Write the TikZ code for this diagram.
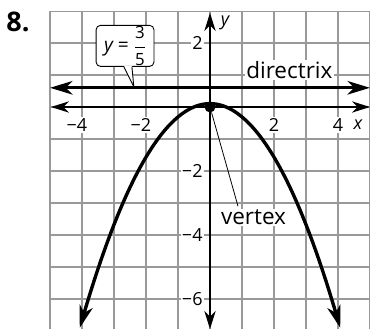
\documentclass[tikz,border=0pt]{standalone}
\usepackage{fontspec}
\setmainfont{Open Sans}
\usetikzlibrary{arrows.meta,calc}
\begin{document}
\begin{tikzpicture}[x=1cm,y=1cm,
  gridline/.style={draw=black!40, line width=0.9pt},
  axis/.style={line width=1.6pt, {Stealth[length=16pt,width=10pt,inset=5pt]}-{Stealth[length=16pt,width=10pt,inset=5pt]}},
  heavy/.style={line width=3pt, {Stealth[length=20pt,width=12pt,inset=6pt]}-{Stealth[length=20pt,width=12pt,inset=6pt]}},
  ticklbl/.style={font=\fontsize{16}{18}\selectfont, fill=white, inner sep=1pt},
  lbl/.style={font=\fontsize{20}{22}\selectfont, fill=white, inner sep=1pt},
]
\useasboundingbox (-6.5625,-6.9375) rectangle (5,3.34375);
% grid
\draw[gridline] (-5,-6.94) grid (5,3);
% problem number
\node[font=\fontsize{24}{26}\selectfont\bfseries] (num) at (-6.0,2.66) {8.};
% tick labels
\node[ticklbl] (xm4) at (-4,-0.56) {\llap{−}4};
\node[ticklbl] (xm2) at (-2,-0.56) {\llap{−}2};
\node[ticklbl] (xp2) at (2,-0.56) {2};
\node[ticklbl] (xp4) at (4,-0.56) {4};
\node[ticklbl] (xl) at (4.62,-0.56) {\itshape x};
\node[ticklbl, anchor=east] (yp2) at (-0.19,2) {2};
\node[ticklbl, anchor=east] (ym2) at (-0.19,-2) {−2};
\node[ticklbl, anchor=east] (ym4) at (-0.19,-4) {−4};
\node[ticklbl, anchor=east] (ym6) at (-0.19,-6) {−6};
\node[ticklbl] (yl) at (0.47,2.62) {\itshape y};
% labels
\node[lbl] (dl) at (2.48,1.15) {directrix};
\node[lbl] (vl) at (1.36,-3.45) {vertex};
% axes
\coordinate (xa) at (-4.97,0);
\coordinate (xb) at (5,0);
\coordinate (ya) at (0,-6.94);
\coordinate (yb) at (0,2.94);
\draw[axis] (xa) -- (xb);
\draw[axis] (ya) -- (yb);
% directrix
\coordinate (da) at (-5,0.6);
\coordinate (db) at (5,0.6);
\draw[heavy] (da) -- (db);
% parabola y = -5x^2/12
\coordinate (pa) at (-4.07,-6.902);
\coordinate (pb) at (4.07,-6.902);
\draw[heavy] (pa) .. controls (-1.3567,2.3007) and (1.3567,2.3007) .. (pb);
% vertex
\node[circle, fill=black, inner sep=0pt, minimum size=0.34cm] (v) at (0,0) {};
\coordinate (ve) at (0.875,-3.1);
\draw[line width=0.7pt] (v) -- (ve);
% callout
\node[draw, line width=0.8pt, rounded corners=4pt, fill=white, minimum width=1.81cm, minimum height=1.06cm, inner sep=1pt, font=\fontsize{17}{19}\selectfont] (co) at (-2.655,1.91) {\itshape y\upshape\ = $\displaystyle\frac{\mbox{\fontsize{15}{16}\selectfont 3}}{\mbox{\fontsize{15}{16}\selectfont 5}}$};
\coordinate (pl) at ($(co.south)+(-0.035,0)$);
\coordinate (pr) at ($(co.south)+(0.215,0)$);
\coordinate (tip) at ($(co.south)+(0.275,-0.625)$);
\fill[white] ($(pl)+(0,0.04)$) -- (tip) -- ($(pr)+(0,0.04)$) -- cycle;
\draw[line width=0.8pt, line join=round] (pl) -- (tip) -- (pr);
\end{tikzpicture}
\end{document}
